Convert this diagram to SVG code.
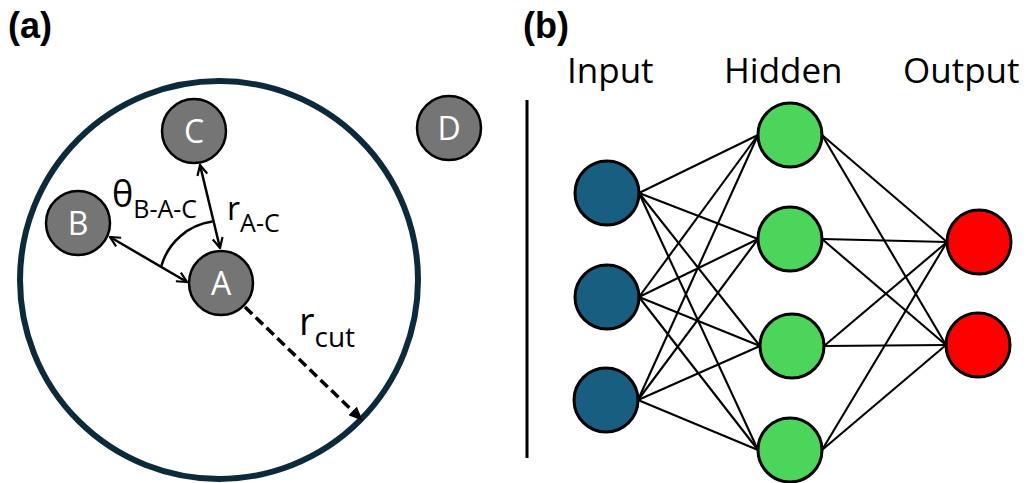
<svg xmlns="http://www.w3.org/2000/svg" width="1028" height="483" viewBox="0 0 1028 483">
<style>
.atom{fill:#757575;stroke:#000;stroke-width:2.5}
.alab{fill:#fff;font-family:"Open Sans",sans-serif;font-size:32px;text-anchor:middle}
.t{font-family:"Open Sans",sans-serif;fill:#000}
.panel{font-family:"Liberation Sans",Arial,sans-serif;font-weight:bold;font-size:36px;fill:#000}
.edge{stroke:#000;stroke-width:2.1;fill:none}
.neu{stroke:#000;stroke-width:3}
.arr{stroke:#000;stroke-width:2.5;fill:none}
</style>
<defs>
<marker id="chev" viewBox="0 0 12 12" refX="11" refY="6" markerWidth="12" markerHeight="12" markerUnits="userSpaceOnUse" orient="auto-start-reverse">
<path d="M1,1 L11,6 L1,11" fill="none" stroke="#000" stroke-width="2.2"/>
</marker>
<marker id="tri" viewBox="0 0 14 12" refX="13" refY="6" markerWidth="14" markerHeight="12" markerUnits="userSpaceOnUse" orient="auto">
<path d="M0,0 L14,6 L0,12 Z" fill="#000"/>
</marker>
</defs>
<rect width="1028" height="483" fill="#fff"/>
<text class="panel" x="8" y="38">(a)</text>
<text class="panel" x="523" y="38">(b)</text>
<g id="cutoff">
<circle cx="219" cy="280" r="199" fill="none" stroke="#0b2a3b" stroke-width="6"/>
</g>
<g id="connectors-a">
<line class="arr" x1="110" y1="237" x2="187" y2="282" marker-start="url(#chev)" marker-end="url(#chev)"/>
<line class="arr" x1="200" y1="165" x2="220" y2="248" marker-start="url(#chev)" marker-end="url(#chev)"/>
<path class="arr" d="M161.4,265.9 A62,62 0 0 1 212.4,221.6" stroke-width="2"/>
<line x1="245" y1="307" x2="362" y2="420" stroke="#000" stroke-width="3.5" stroke-dasharray="10,5" marker-end="url(#tri)"/>
</g>
<g id="atom-C"><circle class="atom" cx="194" cy="131" r="32"/><text class="alab" x="194" y="142.5">C</text></g>
<g id="atom-B"><circle class="atom" cx="78" cy="223" r="32"/><text class="alab" x="78" y="234.5">B</text></g>
<g id="atom-A"><circle class="atom" cx="221" cy="283" r="32"/><text class="alab" x="221" y="294.5">A</text></g>
<g id="atom-D"><circle class="atom" cx="449" cy="128" r="32"/><text class="alab" x="449" y="139.5">D</text></g>
<g id="labels-a">
<text class="t" x="112" y="207" font-size="36">θ<tspan font-size="25" dy="11">B-A-C</tspan></text>
<text class="t" x="227" y="220" font-size="32">r<tspan font-size="25" dy="12">A-C</tspan></text>
<text class="t" x="299" y="335" font-size="38">r<tspan font-size="28" dy="12">cut</tspan></text>
</g>
<line x1="527" y1="100" x2="527" y2="458" stroke="#000" stroke-width="3"/>
<text class="t" x="567" y="83" font-size="35">Input</text>
<text class="t" x="724" y="83" font-size="35">Hidden</text>
<text class="t" x="903" y="83" font-size="35">Output</text>
<g id="connectors-b">
<line class="edge" x1="639" y1="193" x2="758" y2="135"/>
<line class="edge" x1="639" y1="193" x2="758" y2="239" stroke-width="2.6"/>
<line class="edge" x1="639" y1="193" x2="760" y2="346" stroke-width="2.6"/>
<line class="edge" x1="639" y1="193" x2="758" y2="450"/>
<line class="edge" x1="639" y1="297" x2="758" y2="135"/>
<line class="edge" x1="639" y1="297" x2="758" y2="239"/>
<line class="edge" x1="639" y1="297" x2="760" y2="346" stroke-width="2.6"/>
<line class="edge" x1="639" y1="297" x2="758" y2="450"/>
<line class="edge" x1="638" y1="400" x2="758" y2="135"/>
<line class="edge" x1="638" y1="400" x2="758" y2="239"/>
<line class="edge" x1="638" y1="400" x2="760" y2="346"/>
<line class="edge" x1="638" y1="400" x2="758" y2="450"/>
<line class="edge" x1="822" y1="135" x2="947" y2="242"/>
<line class="edge" x1="822" y1="135" x2="946" y2="345"/>
<line class="edge" x1="822" y1="239" x2="947" y2="242"/>
<line class="edge" x1="822" y1="239" x2="946" y2="345"/>
<line class="edge" x1="824" y1="346" x2="947" y2="242"/>
<line class="edge" x1="824" y1="346" x2="946" y2="345"/>
<line class="edge" x1="822" y1="450" x2="947" y2="242"/>
<line class="edge" x1="822" y1="450" x2="946" y2="345"/>
</g>
<g id="in1"><circle class="neu" cx="607" cy="193" r="32" fill="#185e80"/></g>
<g id="in2"><circle class="neu" cx="607" cy="297" r="32" fill="#185e80"/></g>
<g id="in3"><circle class="neu" cx="606" cy="400" r="32" fill="#185e80"/></g>
<g id="h1"><circle class="neu" cx="790" cy="135" r="32" fill="#4bd55b"/></g>
<g id="h2"><circle class="neu" cx="790" cy="239" r="32" fill="#4bd55b"/></g>
<g id="h3"><circle class="neu" cx="792" cy="346" r="32" fill="#4bd55b"/></g>
<g id="h4"><circle class="neu" cx="790" cy="450" r="32" fill="#4bd55b"/></g>
<g id="o1"><circle class="neu" cx="979" cy="242" r="32" fill="#ff0000"/></g>
<g id="o2"><circle class="neu" cx="978" cy="345" r="32" fill="#ff0000"/></g>
</svg>
